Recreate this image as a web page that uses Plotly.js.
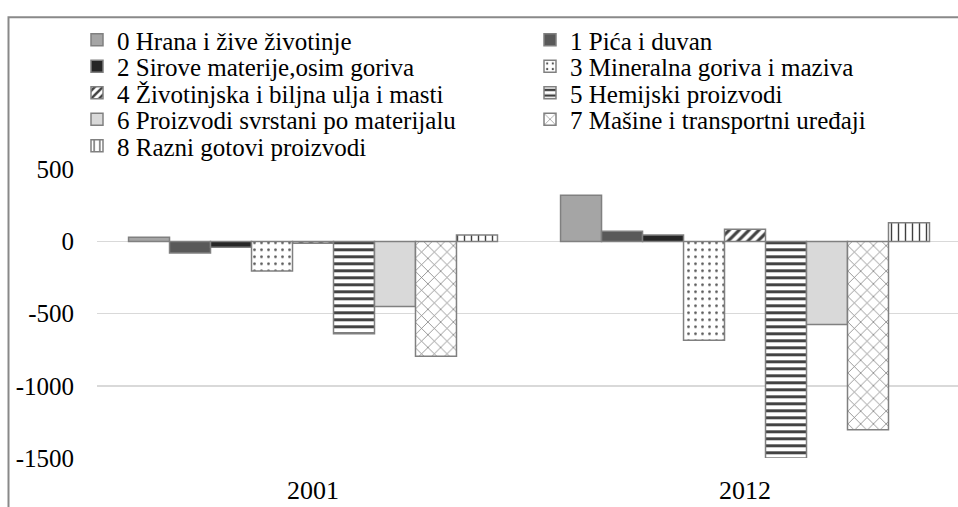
<!DOCTYPE html>
<html><head><meta charset="utf-8">
<script src="https://cdn.plot.ly/plotly-3.0.1.min.js"></script>
<style>html,body{margin:0;padding:0;background:#fff}#chart{width:958px;height:507px}</style>
</head><body><div id="chart"></div>
<script>
// Data
const years = ['2001', '2012'];
const seriesNames = [
  '0 Hrana i žive životinje',
  '1 Pića i duvan',
  '2 Sirove materije,osim goriva',
  '3 Mineralna goriva i maziva',
  '4 Životinjska i biljna ulja i masti',
  '5 Hemijski proizvodi',
  '6 Proizvodi svrstani po materijalu',
  '7 Mašine i transportni uređaji',
  '8 Razni gotovi proizvodi'
];
const hrana     = [30, 320];
const pica      = [-80, 70];
const sirove    = [-40, 45];
const mineralna = [-205, -685];
const ulja      = [-12, 85];
const hemijski  = [-640, -1500];
const materijal = [-450, -575];
const masine    = [-795, -1305];
const razni     = [45, 130];
const yTickVals = [-1500, -1000, -500, 0, 500];
const yTickText = ['-1500', '-1000', '-500', '0', '500'];

const seriesValues = [hrana, pica, sirove, mineralna, ulja, hemijski, materijal, masine, razni];

// Styles
const solid = ['#a5a5a5', '#595959', '#262626', null, null, null, '#d9d9d9', null, null];
const patterns = [
  null, null, null,
  {shape: '.', fgcolor: '#505050', bgcolor: '#ffffff', size: 7, solidity: 0.12},
  {shape: '/', fgcolor: '#404040', bgcolor: '#ffffff', size: 7, solidity: 0.45},
  {shape: '-', fgcolor: '#404040', bgcolor: '#ffffff', size: 7, solidity: 0.42},
  null,
  {shape: 'x', fgcolor: '#7a7a7a', bgcolor: '#ffffff', size: 9, solidity: 0.16},
  {shape: '|', fgcolor: '#404040', bgcolor: '#ffffff', size: 7, solidity: 0.2}
];

const W = 958, H = 507;
const rowY = [40, 66.5, 93, 119.5, 146];
const colX = [91, 544];

const traces = seriesNames.map((name, i) => {
  const marker = {line: {color: '#808080', width: 1.5}};
  if (patterns[i]) { marker.color = '#ffffff'; marker.pattern = patterns[i]; }
  else { marker.color = solid[i]; }
  return {
    type: 'bar', x: years, y: seriesValues[i], name: name,
    marker: marker, legend: i === 0 ? 'legend' : 'legend' + (i + 1),
    hoverinfo: 'name+y'
  };
});

const font = {family: '"Liberation Serif", "Times New Roman", serif', color: '#000000'};
const layout = {
  width: W, height: H,
  margin: {l: 97, r: 0, t: 166.7, b: 49},
  paper_bgcolor: '#ffffff', plot_bgcolor: '#ffffff',
  barmode: 'group', bargap: 0.146, bargroupgap: 0,
  font: Object.assign({size: 25}, font),
  xaxis: {
    type: 'category', range: [-0.5, 1.493], showgrid: false, zeroline: false,
    showline: false, ticks: '', ticklabelstandoff: 14,
    tickfont: Object.assign({size: 26}, font)
  },
  yaxis: {
    range: [-1500, 500], tickvals: yTickVals, ticktext: yTickText,
    showgrid: true, gridcolor: '#d9d9d9', gridwidth: 1.5,
    zeroline: true, zerolinecolor: '#d9d9d9', zerolinewidth: 1.5,
    showline: false, ticks: '', ticklabelstandoff: 22,
    tickfont: Object.assign({size: 25}, font)
  },
  shapes: [{
    type: 'rect', xref: 'paper', yref: 'paper',
    x0: (8.5 - 97) / 861, x1: 1.02, y0: -0.3, y1: (458 - 13.3) / 291.3,
    line: {color: '#898989', width: 2}, fillcolor: 'rgba(0,0,0,0)', layer: 'below'
  }],
  showlegend: true
};

seriesNames.forEach((n, i) => {
  const key = i === 0 ? 'legend' : 'legend' + (i + 1);
  const col = i % 2, row = Math.floor(i / 2);
  layout[key] = {
    xref: 'container', yref: 'container',
    x: (colX[col] - 14) / W, y: 1 - rowY[row] / H,
    xanchor: 'left', yanchor: 'middle',
    orientation: 'h', bgcolor: 'rgba(0,0,0,0)', borderwidth: 0,
    font: Object.assign({size: 25}, font), itemwidth: 30, itemclick: false, itemdoubleclick: false
  };
});

Plotly.newPlot('chart', traces, layout, {displayModeBar: false, staticPlot: true});
</script></body></html>
